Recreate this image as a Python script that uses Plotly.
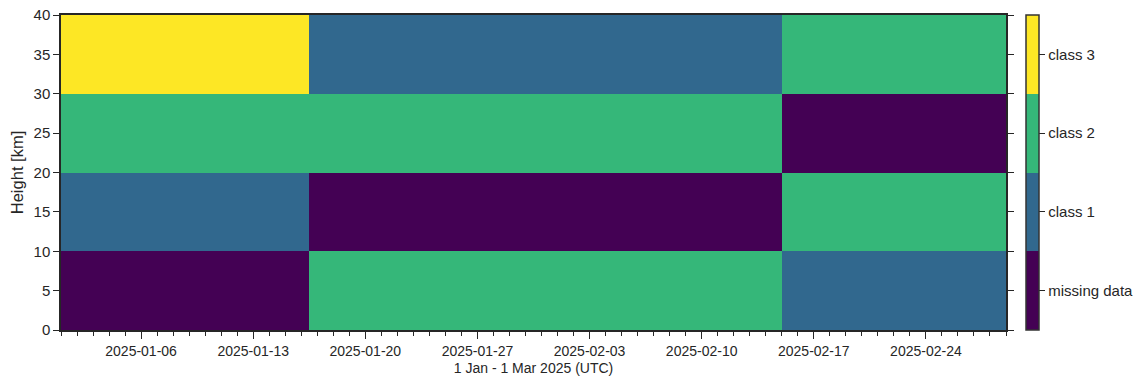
import plotly.graph_objects as go

# ---- data ----
time_edges = ["2025-01-01 00:00", "2025-01-16 12:00", "2025-02-15 00:00", "2025-03-01 00:00"]
height_edges = [0, 10, 20, 30, 40]
class_labels = ["missing data", "class 1", "class 2", "class 3"]
# rows: height bins bottom->top ; columns: time segments
seg1 = [0, 1, 2, 3]
seg2 = [2, 0, 2, 1]
seg3 = [1, 2, 0, 2]
z = [[seg1[i], seg2[i], seg3[i]] for i in range(4)]

colors = ["#440154", "#31688e", "#35b779", "#fde725"]
n = len(colors)
colorscale = []
for i, c in enumerate(colors):
    colorscale.append([i / n, c])
    colorscale.append([(i + 1) / n, c])

axis_color = "#262626"

fig = go.Figure(go.Heatmap(
    x=time_edges, y=height_edges, z=z,
    zmin=-0.5, zmax=3.5, colorscale=colorscale,
    hoverinfo="skip",
    colorbar=dict(
        tickvals=[0, 1, 2, 3], ticktext=class_labels,
        ticks="outside", ticklen=6, tickwidth=1.25, tickcolor=axis_color,
        tickfont=dict(size=15, color=axis_color, family="Liberation Sans, Arial"),
        outlinewidth=1.5, outlinecolor="#333333",
        thickness=13, len=1, lenmode="fraction",
        x=1.0212, xanchor="left", xpad=0, ypad=0, y=0.5, yanchor="middle",
    ),
))

fig.update_layout(
    width=1148, height=387,
    margin=dict(l=61, r=142, t=15, b=57, autoexpand=False),
    paper_bgcolor="white", plot_bgcolor="white",
    font=dict(family="Liberation Sans, Arial", color=axis_color),
    xaxis=dict(
        type="date", range=["2025-01-01", "2025-03-01"], automargin=False,
        tick0="2025-01-06", dtick=7 * 86400000, tickformat="%Y-%m-%d",
        ticks="outside", ticklen=7, tickwidth=1.25, tickcolor=axis_color,
        tickfont=dict(size=14),
        minor=dict(dtick=86400000, tick0="2025-01-01", ticks="outside", ticklen=4,
                   tickwidth=1.25, tickcolor=axis_color, showgrid=False),
        showline=True, linecolor=axis_color, linewidth=1.5, mirror=True,
        showgrid=False, zeroline=False,
        title=dict(text="1 Jan - 1 Mar 2025 (UTC)", font=dict(size=14), standoff=6),
    ),
    yaxis=dict(
        range=[0, 40], dtick=5, tick0=0, automargin=False,
        ticks="outside", ticklen=6, tickwidth=1.25, tickcolor=axis_color,
        tickfont=dict(size=15),
        showline=True, linecolor=axis_color, linewidth=1.5, mirror="ticks",
        showgrid=False, zeroline=False,
        title=dict(text="Height [km]", font=dict(size=16.5), standoff=6),
    ),
)

fig.write_html("out.html")
